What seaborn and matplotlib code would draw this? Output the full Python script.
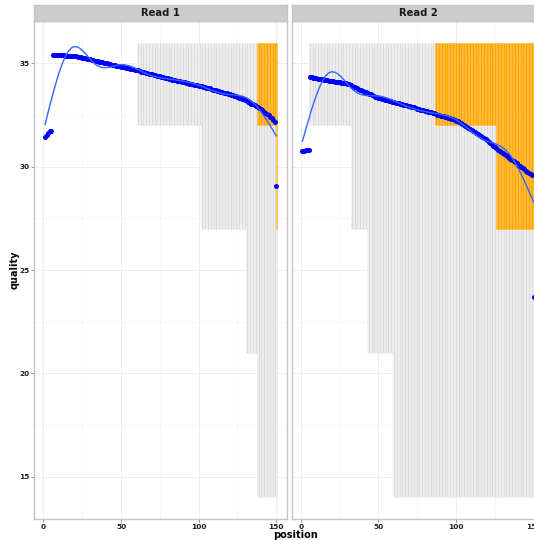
import numpy as np
import pandas as pd
import matplotlib
matplotlib.use("Agg")
import matplotlib.pyplot as plt
import seaborn as sns

# ---- per-cycle quality summaries -------------------------------------------
position = list(range(1, 151))

# mean quality per cycle
read1_mean = [31.45, 31.55, 31.65, 31.72, 31.75,
              35.40, 35.41, 35.41, 35.40, 35.40, 35.40, 35.39, 35.39, 35.38, 35.38,
              35.37, 35.37, 35.36, 35.35, 35.34, 35.34, 35.33, 35.31, 35.30, 35.28,
              35.27, 35.25, 35.23, 35.22, 35.20, 35.18, 35.16, 35.14, 35.13, 35.11,
              35.09, 35.07, 35.06, 35.04, 35.02, 35.00, 34.98, 34.96, 34.95, 34.93,
              34.91, 34.90, 34.88, 34.86, 34.85, 34.83, 34.81, 34.79, 34.78, 34.76,
              34.74, 34.72, 34.71, 34.69, 34.68, 34.66, 34.64, 34.61, 34.59, 34.57,
              34.55, 34.53, 34.51, 34.49, 34.47, 34.45, 34.43, 34.41, 34.39, 34.37,
              34.36, 34.34, 34.32, 34.30, 34.28, 34.26, 34.24, 34.22, 34.20, 34.19,
              34.17, 34.15, 34.13, 34.12, 34.10, 34.08, 34.06, 34.04, 34.03, 34.01,
              34.00, 33.98, 33.96, 33.95, 33.93, 33.91, 33.89, 33.87, 33.85, 33.83,
              33.81, 33.79, 33.77, 33.74, 33.72, 33.70, 33.68, 33.66, 33.63, 33.61,
              33.59, 33.57, 33.55, 33.52, 33.50, 33.48, 33.46, 33.43, 33.41, 33.38,
              33.35, 33.32, 33.29, 33.26, 33.22, 33.18, 33.14, 33.10, 33.06, 33.02,
              32.98, 32.93, 32.89, 32.84, 32.78, 32.73, 32.67, 32.62, 32.56, 32.50,
              32.43, 32.35, 32.27, 32.18, 29.06]

read2_mean = [30.76, 30.78, 30.80, 30.81, 30.81,
              34.35, 34.33, 34.31, 34.30, 34.28, 34.27, 34.25, 34.24, 34.23, 34.21,
              34.20, 34.19, 34.17, 34.16, 34.15, 34.14, 34.12, 34.11, 34.10, 34.08,
              34.07, 34.06, 34.05, 34.04, 34.02, 33.99, 33.95, 33.92, 33.88, 33.85,
              33.81, 33.78, 33.74, 33.71, 33.67, 33.64, 33.60, 33.57, 33.53, 33.50,
              33.46, 33.43, 33.40, 33.36, 33.33, 33.31, 33.29, 33.27, 33.25, 33.23,
              33.21, 33.19, 33.17, 33.15, 33.13, 33.11, 33.09, 33.07, 33.05, 33.03,
              33.01, 32.99, 32.97, 32.95, 32.93, 32.91, 32.89, 32.87, 32.84, 32.82,
              32.80, 32.77, 32.75, 32.73, 32.71, 32.69, 32.67, 32.65, 32.63, 32.60,
              32.58, 32.56, 32.53, 32.51, 32.48, 32.46, 32.44, 32.41, 32.39, 32.36,
              32.34, 32.31, 32.29, 32.26, 32.24, 32.21, 32.18, 32.14, 32.09, 32.04,
              31.99, 31.94, 31.89, 31.84, 31.79, 31.75, 31.70, 31.65, 31.60, 31.55,
              31.50, 31.46, 31.41, 31.35, 31.28, 31.22, 31.15, 31.09, 31.02, 30.95,
              30.89, 30.83, 30.78, 30.72, 30.66, 30.61, 30.55, 30.50, 30.44, 30.38,
              30.33, 30.27, 30.22, 30.16, 30.11, 30.05, 29.99, 29.94, 29.88, 29.82,
              29.77, 29.71, 29.66, 29.60, 23.70]

NA = np.nan
# upper bound of the quality spread per cycle
read1_upper = [NA] * 60 + [36] * 90
read2_upper = [NA] * 5 + [36] * 145
# lower bound of the quality spread per cycle
read1_lower = [NA] * 60 + [32] * 41 + [27] * 29 + [21] * 7 + [14] * 13
read2_lower = [NA] * 5 + [32] * 27 + [27] * 10 + [21] * 17 + [14] * 91
# lower quartile of flagged cycles (upper quartile = upper bound)
read1_flag_q1 = [NA] * 137 + [32] * 12 + [27] * 1
read2_flag_q1 = [NA] * 86 + [32] * 39 + [27] * 25

panels = ["Read 1", "Read 2"]

frames = []
for name, m, up, lo, fq in [
    ("Read 1", read1_mean, read1_upper, read1_lower, read1_flag_q1),
    ("Read 2", read2_mean, read2_upper, read2_lower, read2_flag_q1),
]:
    frames.append(pd.DataFrame({"read": name, "position": position, "quality": m,
                                "upper": up, "lower": lo, "flag_q1": fq}))
df = pd.concat(frames, ignore_index=True)


def spline_smooth(x, y, k=10, n=80):
    """Least-squares natural cubic regression spline with k knots at quantiles of x."""
    x = np.asarray(x, float)
    y = np.asarray(y, float)
    x0, x1 = x.min(), x.max()
    knots = np.quantile((x - x0) / (x1 - x0), np.linspace(0, 1, k))

    def basis(t):
        def d(j):
            return ((np.clip(t - knots[j], 0, None) ** 3
                     - np.clip(t - knots[-1], 0, None) ** 3) / (knots[-1] - knots[j]))
        cols = [np.ones_like(t), t] + [d(j) - d(k - 2) for j in range(k - 2)]
        return np.column_stack(cols)

    coef, *_ = np.linalg.lstsq(basis((x - x0) / (x1 - x0)), y, rcond=None)
    grid = np.linspace(x0, x1, n)
    return grid, basis((grid - x0) / (x1 - x0)) @ coef


# ---- figure ----------------------------------------------------------------
sns.set_theme(style="white")
plt.rcParams["font.family"] = ["DejaVu Sans"]

W, H = 534, 540
fig = plt.figure(figsize=(W / 100, H / 100), dpi=100)
fig.patch.set_facecolor("white")

panel_left = [34.3, 291.7]
panel_w = 253.0
panel_top, panel_bot = 20.7, 519.3
strip_top = 5.0

border = "#C4C4C4"
for i, name in enumerate(panels):
    ax = fig.add_axes([panel_left[i] / W, 1 - panel_bot / H,
                       panel_w / W, (panel_bot - panel_top) / H])
    sub = df[df["read"] == name]

    ax.set_xlim(-5.9, 157.1)
    ax.set_ylim(12.94, 37.07)
    ax.set_xticks([0, 50, 100, 150])
    ax.set_xticks([25, 75, 125], minor=True)
    ax.set_yticks([15, 20, 25, 30, 35])
    ax.set_yticks([17.5, 22.5, 27.5, 32.5], minor=True)
    ax.grid(which="major", color="#EBEBEB", lw=0.6)
    ax.grid(which="minor", color="#F6F6F6", lw=0.6)
    ax.set_axisbelow(True)

    spread = sub.dropna(subset=["upper"])
    ax.bar(spread["position"], spread["upper"] - spread["lower"], bottom=spread["lower"],
           width=1.0, color="#DDDDDD", edgecolor="#F3F3F3", linewidth=0.4, zorder=2)
    flagged = sub.dropna(subset=["flag_q1"])
    ax.bar(flagged["position"], flagged["upper"] - flagged["flag_q1"], bottom=flagged["flag_q1"],
           width=1.0, color="#FFA500", edgecolor="#FFBE45", linewidth=0.4, zorder=3)

    sns.scatterplot(data=sub, x="position", y="quality", color="#0000FF", s=13,
                    linewidth=0, ax=ax, zorder=4, legend=False)
    gx, gy = spline_smooth(sub["position"], sub["quality"])
    sns.lineplot(x=gx, y=gy, color="#3366FF", lw=1.0, ax=ax, zorder=5)

    for sp in ax.spines.values():
        sp.set_color(border)
        sp.set_linewidth(1.0)
    ax.tick_params(axis="both", which="major", length=2.5, width=0.6, color="#7F7F7F",
                   labelsize=5.3, labelcolor="#1E1E1E", pad=1.2, bottom=True, left=True)
    ax.tick_params(which="minor", length=0)
    for lab in ax.get_xticklabels() + ax.get_yticklabels():
        lab.set_fontweight("bold")
    if i == 1:
        ax.tick_params(axis="y", labelleft=False, left=False)
    ax.set_xlabel("")
    ax.set_ylabel("")

    # facet strip
    sax = fig.add_axes([panel_left[i] / W, 1 - panel_top / H,
                        panel_w / W, (panel_top - strip_top) / H])
    sax.set_facecolor("#CCCCCC")
    sax.set_xticks([])
    sax.set_yticks([])
    for sp in sax.spines.values():
        sp.set_color(border)
        sp.set_linewidth(1.0)
    sax.text(0.5, 0.5, name, transform=sax.transAxes, ha="center", va="center",
             fontsize=7.2, fontweight="bold", color="#1A1A1A")

fig.text(296 / W, 1 - 535.5 / H, "position", ha="center", va="center",
         fontsize=7, fontweight="bold", color="#000000")
fig.text(15 / W, 1 - 270 / H, "quality", ha="center", va="center", rotation=90,
         fontsize=7, fontweight="bold", color="#000000")

fig.savefig("out.png", dpi=100, facecolor="white")
